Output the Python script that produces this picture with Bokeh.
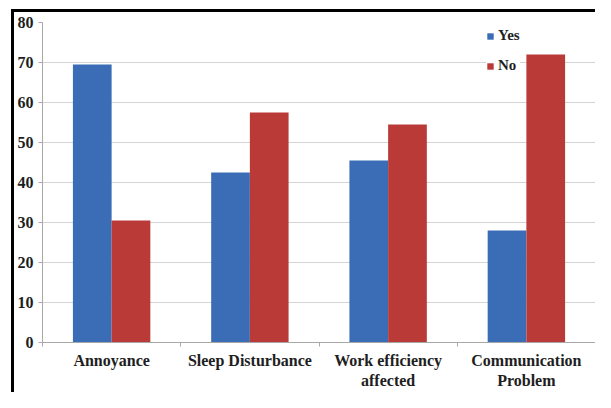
from bokeh.plotting import figure
from bokeh.models import Range1d, FixedTicker, Legend, LegendItem, ColumnDataSource
from bokeh.embed import file_html
from bokeh.resources import INLINE

categories = ["Annoyance", "Sleep Disturbance", "Work efficiency\naffected", "Communication\nProblem"]
yes_vals = [69.5, 42.5, 45.5, 28.0]
no_vals = [30.5, 57.5, 54.5, 72.0]
y_ticks = [0, 10, 20, 30, 40, 50, 60, 70, 80]

BLUE = "#3b6db7"
RED = "#ba3a38"
FONT = "Liberation Serif"
TXT = "#1e1e1e"

centers = [i + 0.5 for i in range(len(categories))]
bounds = list(range(len(categories) + 1))
bw = 0.28

bg = ("linear-gradient(#000, #000) 11px 9px / 3px 100% no-repeat, "
      "linear-gradient(#000, #000) 11px 9px / 100% 3px no-repeat, #fff")

p = figure(width=595, height=392, output_backend="svg", toolbar_location=None,
           x_range=Range1d(0, len(categories)), y_range=Range1d(0, 80),
           min_border_left=42, min_border_right=0, min_border_top=22, min_border_bottom=50,
           styles={"background": bg})
p.outline_line_color = None
p.background_fill_color = "white"
p.border_fill_color = None

src = ColumnDataSource(dict(xy=[c - bw / 2 for c in centers], xn=[c + bw / 2 for c in centers],
                            yes=yes_vals, no=no_vals))
r_yes = p.vbar(x="xy", top="yes", width=bw, source=src, fill_color=BLUE, line_color=None)
r_no = p.vbar(x="xn", top="no", width=bw, source=src, fill_color=RED, line_color=None)

# y axis
p.yaxis.ticker = FixedTicker(ticks=y_ticks)
p.yaxis.major_label_text_font = FONT
p.yaxis.major_label_text_font_style = "bold"
p.yaxis.major_label_text_font_size = "16px"
p.yaxis.major_label_text_color = TXT
p.yaxis.axis_line_color = "#a8a8a8"
p.yaxis.major_tick_line_color = "#a8a8a8"
p.yaxis.major_tick_in = 0
p.yaxis.major_tick_out = 4
p.yaxis.minor_tick_line_color = None
p.yaxis.major_label_standoff = 5

# x axis: names at category centres, separator ticks at the boundaries
p.xaxis.ticker = FixedTicker(ticks=centers, minor_ticks=bounds)
p.xaxis.major_label_overrides = {c: lab for c, lab in zip(centers, categories)}
p.xaxis.major_label_text_font = FONT
p.xaxis.major_label_text_font_style = "bold"
p.xaxis.major_label_text_font_size = "16px"
p.xaxis.major_label_text_color = TXT
p.xaxis.major_tick_line_color = None
p.xaxis.major_tick_in = 0
p.xaxis.major_tick_out = 4
p.xaxis.minor_tick_line_color = "#a8a8a8"
p.xaxis.minor_tick_in = 0
p.xaxis.minor_tick_out = 4
p.xaxis.axis_line_color = "#a8a8a8"
p.xaxis.major_label_standoff = 5

p.xgrid.grid_line_color = None
p.ygrid.ticker = FixedTicker(ticks=y_ticks)
p.ygrid.grid_line_color = "#d4d4d4"

legend = Legend(items=[LegendItem(label="Yes", renderers=[r_yes]),
                       LegendItem(label="No", renderers=[r_no])],
                location=(444, 268))
legend.border_line_color = None
legend.background_fill_color = "white"
legend.background_fill_alpha = 1
legend.label_text_font = FONT
legend.label_text_font_style = "bold"
legend.label_text_font_size = "15px"
legend.label_text_color = TXT
legend.glyph_width = 8
legend.glyph_height = 8
legend.label_standoff = 4
legend.spacing = 13
legend.padding = 2
legend.margin = 0
p.add_layout(legend)

open("out.html", "w").write(file_html(p, INLINE))
